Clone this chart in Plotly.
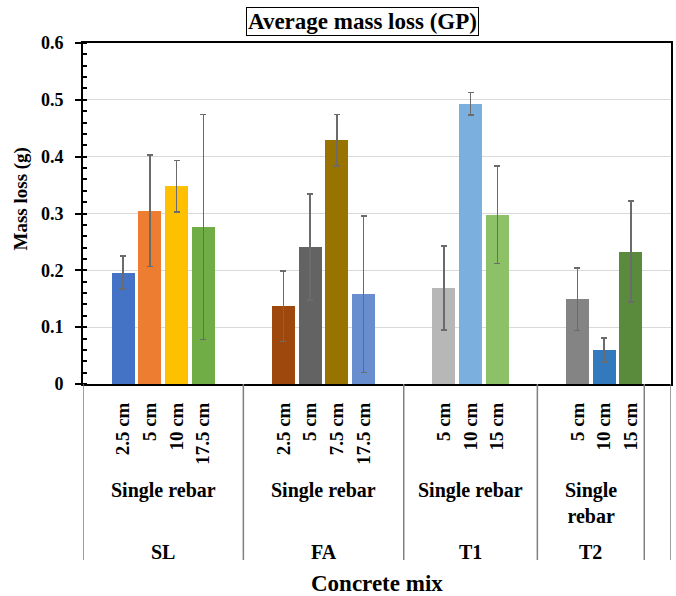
import plotly.graph_objects as go

# ---- data ----
mixes = ["SL", "FA", "T1", "T2"]
rebar_type = ["Single rebar", "Single rebar", "Single rebar", "Single<br>rebar"]
sizes = [
    ["2.5 cm", "5 cm", "10 cm", "17.5 cm"],
    ["2.5 cm", "5 cm", "7.5 cm", "17.5 cm"],
    ["5 cm", "10 cm", "15 cm"],
    ["5 cm", "10 cm", "15 cm"],
]
mass_loss = [
    [0.196, 0.305, 0.348, 0.276],
    [0.137, 0.241, 0.429, 0.158],
    [0.169, 0.493, 0.298],
    [0.149, 0.060, 0.233],
]
err = [
    [0.029, 0.098, 0.045, 0.198],
    [0.062, 0.093, 0.045, 0.138],
    [0.074, 0.020, 0.086],
    [0.055, 0.021, 0.089],
]
colors = [
    ["#4472C4", "#ED7D31", "#FFC000", "#70AD47"],
    ["#9E480E", "#636363", "#997300", "#698ED0"],
    ["#B7B7B7", "#7BAFDE", "#8CC168"],
    ["#848484", "#3379BD", "#5A8A3B"],
]
y_ticks = [0, 0.1, 0.2, 0.3, 0.4, 0.5, 0.6]

# ---- category slot layout (Excel multi-level axis) ----
lead_blank = [1, 1, 1, 1]
trail_blank = [1, 1, 1, 0]
xs, ys, es, cs, labels = [], [], [], [], []
bounds = [-0.5]
centers = []
pos = 0
for g in range(len(mixes)):
    start = pos
    pos += lead_blank[g]
    for i, s in enumerate(sizes[g]):
        xs.append(pos); ys.append(mass_loss[g][i]); es.append(err[g][i])
        cs.append(colors[g][i]); labels.append(s)
        pos += 1
    pos += trail_blank[g]
    centers.append((start + pos - 1) / 2)
    bounds.append(pos - 0.5)
pos += 1  # final empty category
x_max = pos - 0.5
bounds.append(x_max)

serif = "Times New Roman, Liberation Serif, DejaVu Serif, serif"

fig = go.Figure()
fig.add_trace(go.Bar(
    x=xs, y=ys, width=0.86,
    marker=dict(color=cs, line=dict(width=0)),
    error_y=dict(type="data", array=es, visible=True,
                 color="#6B6B6B", thickness=1.5, width=3),
    showlegend=False, hoverinfo="skip",
))

shapes = []
for b in bounds:
    shapes.append(dict(type="line", xref="x", yref="paper", x0=b, x1=b,
                       y0=0, y1=-0.516, line=dict(color="#7F7F7F", width=1.5)))

ann = []
for g in range(len(mixes)):
    ann.append(dict(x=centers[g], y=0, xref="x", yref="paper", yshift=-93,
                    text=f"<b>{rebar_type[g]}</b>", showarrow=False,
                    font=dict(family=serif, size=20, color="black"),
                    yanchor="top", xanchor="center"))
    ann.append(dict(x=centers[g], y=0, xref="x", yref="paper", yshift=-168,
                    text=f"<b>{mixes[g]}</b>", showarrow=False,
                    font=dict(family=serif, size=20, color="black"),
                    yanchor="middle", xanchor="center"))
ann.append(dict(x=0.5, y=0, xref="paper", yref="paper", yshift=-199,
                text="<b>Concrete mix</b>", showarrow=False,
                font=dict(family=serif, size=23, color="black"),
                yanchor="middle", xanchor="center"))
ann.append(dict(x=0, y=0.5425, xref="paper", yref="paper", xshift=-61.5,
                text="<b>Mass loss (g)</b>", showarrow=False, textangle=-90,
                font=dict(family=serif, size=19, color="black"),
                yanchor="middle", xanchor="center"))
ann.append(dict(x=0.476, y=1, xref="paper", yref="paper", yshift=22,
                text="<b>Average mass loss (GP)</b>", showarrow=False,
                font=dict(family=serif, size=23, color="black"),
                bordercolor="black", borderwidth=1, borderpad=1,
                yanchor="middle", xanchor="center"))

fig.update_layout(
    width=676, height=596,
    margin=dict(l=83, r=3, t=43, b=212),
    paper_bgcolor="white", plot_bgcolor="white",
    bargap=0, shapes=shapes, annotations=ann,
    xaxis=dict(range=[-0.5, x_max], tickmode="array", tickvals=xs,
               ticktext=[f"<b>{t}</b>" for t in labels], tickangle=-90,
               ticks="", ticklabelstandoff=9, showgrid=False,
               showline=True, linecolor="black", linewidth=2, mirror=True,
               tickfont=dict(family=serif, size=19, color="black"),
               zeroline=False),
    yaxis=dict(range=[0, 0.6], tickvals=y_ticks,
               ticktext=[f"<b>{v:g}</b>" for v in y_ticks],
               showgrid=True, gridcolor="#D9D9D9", gridwidth=1,
               showline=True, linecolor="black", linewidth=2, mirror=True,
               ticks="outside", ticklen=6, tickwidth=1.5, tickcolor="black",
               ticklabelstandoff=8,
               minor=dict(dtick=0.02, ticks="inside", ticklen=4,
                          tickwidth=1.5, tickcolor="black", showgrid=False),
               tickfont=dict(family=serif, size=18, color="black"),
               zeroline=False),
)

fig.write_html("out.html", config={"displayModeBar": False},
               post_script="document.body.style.margin='0';"
                           "document.body.style.padding='0';")
